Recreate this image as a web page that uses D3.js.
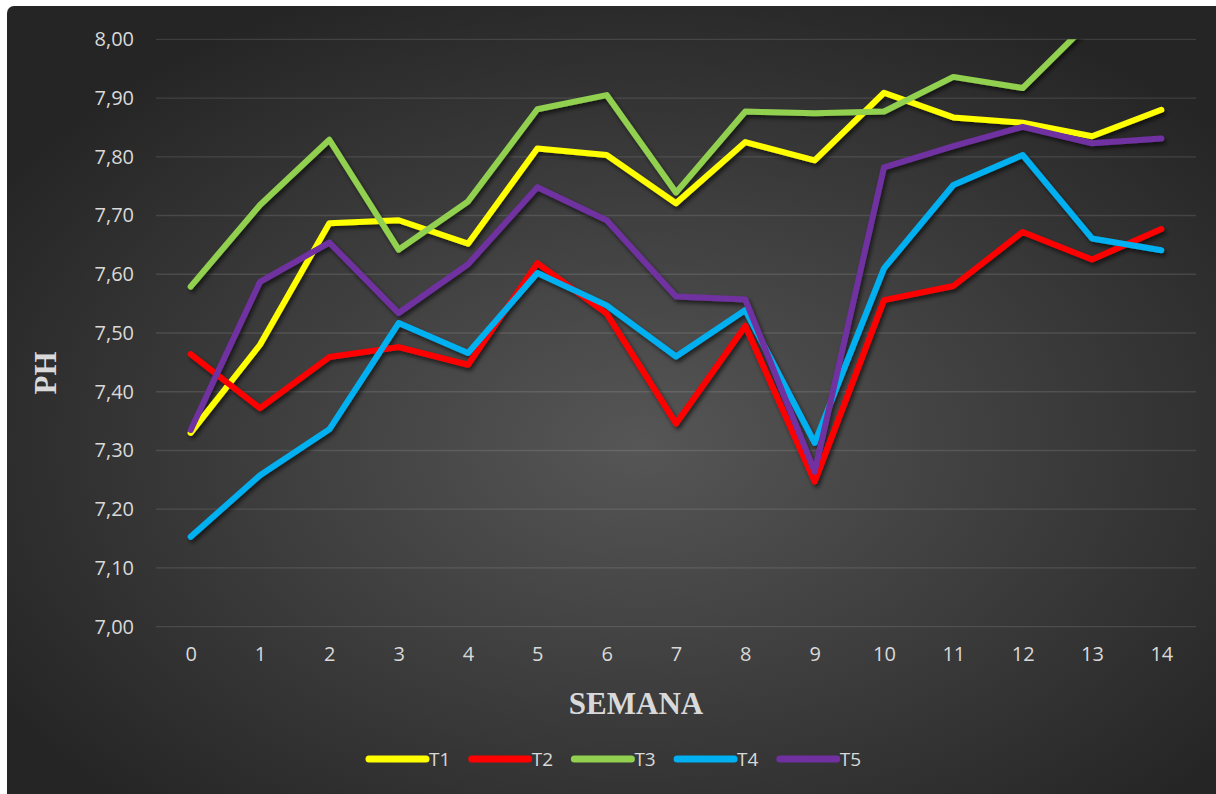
<!DOCTYPE html>
<html>
<head>
<meta charset="utf-8">
<script src="https://cdn.jsdelivr.net/npm/d3@7"></script>
<style>
  body { margin: 0; background: #fff; }
  svg { display: block; }
</style>
</head>
<body>
<svg width="1216" height="794"></svg>
<script>
// semanas y valores de pH por tratamiento
var weeks = [0, 1, 2, 3, 4, 5, 6, 7, 8, 9, 10, 11, 12, 13, 14];
var seriesNames = ["T1", "T2", "T3", "T4", "T5"];
var t1 = [7.33, 7.48, 7.687, 7.692, 7.652, 7.814, 7.803, 7.721, 7.825, 7.794, 7.909, 7.867, 7.858, 7.835, 7.880];
var t2 = [7.464, 7.372, 7.459, 7.476, 7.446, 7.619, 7.533, 7.346, 7.512, 7.247, 7.556, 7.580, 7.672, 7.625, 7.677];
var t3 = [7.579, 7.718, 7.829, 7.642, 7.724, 7.881, 7.905, 7.739, 7.877, 7.874, 7.877, 7.936, 7.917, 8.034, 8.06];
var t4 = [7.153, 7.258, 7.336, 7.517, 7.466, 7.602, 7.547, 7.460, 7.539, 7.313, 7.610, 7.752, 7.803, 7.661, 7.641];
var t5 = [7.335, 7.587, 7.654, 7.534, 7.617, 7.748, 7.692, 7.562, 7.557, 7.264, 7.782, 7.818, 7.851, 7.823, 7.831];
var yTicks = [7.0, 7.1, 7.2, 7.3, 7.4, 7.5, 7.6, 7.7, 7.8, 7.9, 8.0];
var colors = ["#ffff00", "#ff0000", "#92d050", "#00b0f0", "#7030a0"];

var allSeries = [t1, t2, t3, t4, t5];

var svg = d3.select("svg"),
    width = +svg.attr("width"),
    height = +svg.attr("height");

var defs = svg.append("defs");

var grad = defs.append("radialGradient")
    .attr("id", "bg")
    .attr("cx", "52%").attr("cy", "55%").attr("r", "62%");
grad.append("stop").attr("offset", "0%").attr("stop-color", "#565656");
grad.append("stop").attr("offset", "100%").attr("stop-color", "#252525");

var shadow = defs.append("filter")
    .attr("id", "shadow")
    .attr("x", "-10%").attr("y", "-10%").attr("width", "120%").attr("height", "130%");
shadow.append("feDropShadow")
    .attr("dx", 2).attr("dy", 3).attr("stdDeviation", 2)
    .attr("flood-color", "#000").attr("flood-opacity", 0.6);

// fondo del grafico
svg.append("rect")
    .attr("x", 7).attr("y", 6)
    .attr("width", width - 7 + 10).attr("height", height - 6 + 10)
    .attr("rx", 7)
    .attr("fill", "url(#bg)");

var plot = { left: 156, right: 1196, top: 39.3, bottom: 626.7 };

var x = d3.scalePoint()
    .domain(weeks)
    .range([plot.left, plot.right])
    .padding(0.5);

var y = d3.scaleLinear()
    .domain([7.0, 8.0])
    .range([plot.bottom, plot.top]);

var fmt = function (d) { return d3.format(".2f")(d).replace(".", ","); };

// lineas de cuadricula
svg.append("g")
    .selectAll("line")
    .data(yTicks)
    .enter().append("line")
    .attr("x1", plot.left).attr("x2", plot.right)
    .attr("y1", function (d) { return y(d); })
    .attr("y2", function (d) { return y(d); })
    .attr("stroke", "#d9d9d9")
    .attr("stroke-opacity", 0.14)
    .attr("stroke-width", 1.3);

// eje Y
var yAxis = svg.append("g")
    .attr("transform", "translate(" + (plot.left - 22) + ",0)")
    .call(d3.axisLeft(y).tickValues(yTicks).tickFormat(fmt).tickSize(0).tickPadding(0));
yAxis.select(".domain").remove();
yAxis.selectAll("text")
    .attr("fill", "#d9d9d9")
    .style("font-family", "'Open Sans', 'Noto Sans', sans-serif")
    .style("font-size", "20px");

// eje X
var xAxis = svg.append("g")
    .attr("transform", "translate(0," + (plot.bottom + 20) + ")")
    .call(d3.axisBottom(x).tickSize(0).tickPadding(0));
xAxis.select(".domain").remove();
xAxis.selectAll("text")
    .attr("fill", "#d9d9d9")
    .style("font-family", "'Open Sans', 'Noto Sans', sans-serif")
    .style("font-size", "20px");

// titulos
svg.append("text")
    .attr("x", 636).attr("y", 714)
    .attr("text-anchor", "middle")
    .attr("fill", "#d9d9d9")
    .style("font-family", "'Liberation Serif', serif")
    .style("font-weight", "bold")
    .style("font-size", "31px")
    .text("SEMANA");

svg.append("text")
    .attr("transform", "translate(56,373) rotate(-90)")
    .attr("text-anchor", "middle")
    .attr("fill", "#d9d9d9")
    .style("font-family", "'Liberation Serif', serif")
    .style("font-weight", "bold")
    .style("font-size", "31px")
    .text("PH");

// series
defs.append("clipPath").attr("id", "plotclip")
    .append("rect")
    .attr("x", 0).attr("y", plot.top)
    .attr("width", width).attr("height", height - plot.top);

var line = d3.line()
    .x(function (d, i) { return x(weeks[i]); })
    .y(function (d) { return y(d); });

var lines = svg.append("g")
    .attr("clip-path", "url(#plotclip)")
    .append("g")
    .attr("filter", "url(#shadow)");

allSeries.forEach(function (s, k) {
    lines.append("path")
        .datum(s)
        .attr("d", line)
        .attr("fill", "none")
        .attr("stroke", colors[k])
        .attr("stroke-width", 6)
        .attr("stroke-linejoin", "round")
        .attr("stroke-linecap", "round");
});

// leyenda
var legend = svg.append("g")
    .attr("transform", "translate(369,759)");

var item = legend.selectAll("g")
    .data(seriesNames)
    .enter().append("g")
    .attr("transform", function (d, i) { return "translate(" + (i * 102.7) + ",0)"; });

item.append("line")
    .attr("x1", 0).attr("x2", 57)
    .attr("y1", 0).attr("y2", 0)
    .attr("stroke", function (d, i) { return colors[i]; })
    .attr("stroke-width", 7)
    .attr("stroke-linecap", "round");

item.append("text")
    .attr("x", 60).attr("y", 7)
    .attr("fill", "#d9d9d9")
    .style("font-family", "'Open Sans', 'Noto Sans', sans-serif")
    .style("font-size", "19px")
    .text(function (d) { return d; });
</script>
</body>
</html>
